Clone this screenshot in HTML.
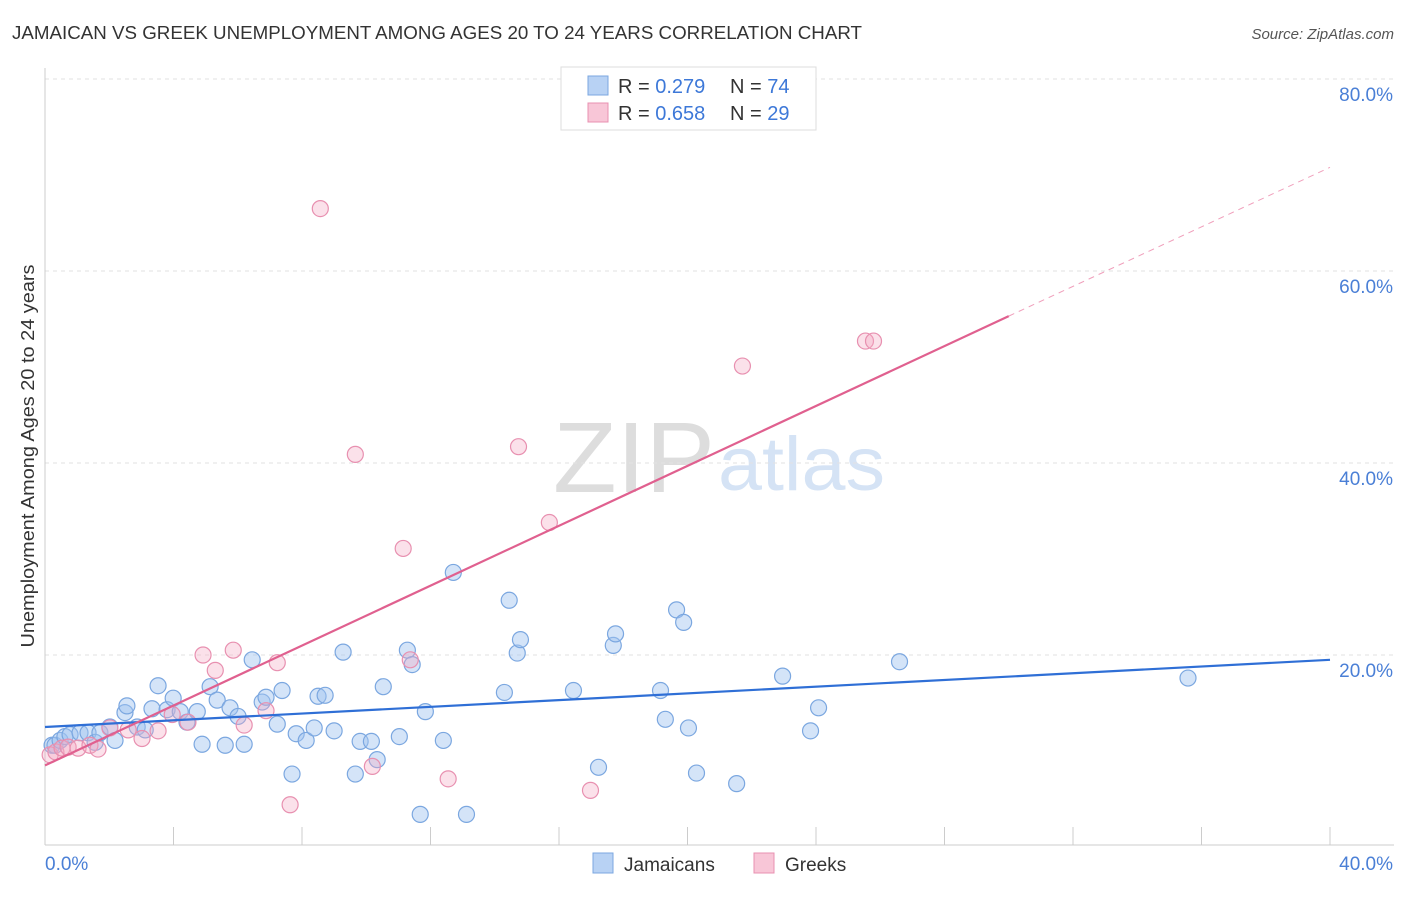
<!DOCTYPE html>
<html><head><meta charset="utf-8"><style>
body{margin:0;background:#fff;font-family:"Liberation Sans",sans-serif}
svg text{font-family:"Liberation Sans",sans-serif}
</style></head><body>
<svg id="chart" width="1406" height="892">
<text x="12" y="39" font-size="18" fill="#333" textLength="850" lengthAdjust="spacingAndGlyphs">JAMAICAN VS GREEK UNEMPLOYMENT AMONG AGES 20 TO 24 YEARS CORRELATION CHART</text>
<text x="1394" y="39" font-size="15" fill="#555" font-style="italic" text-anchor="end">Source: ZipAtlas.com</text>
<text transform="translate(34,456) rotate(-90)" font-size="18" fill="#333" text-anchor="middle" textLength="383" lengthAdjust="spacingAndGlyphs">Unemployment Among Ages 20 to 24 years</text>
<g><text x="553" y="492" font-size="100" fill="#ddd" font-family="Liberation Serif" textLength="162" lengthAdjust="spacingAndGlyphs">ZIP</text><text x="718" y="490" font-size="76" fill="#d5e3f5" textLength="167" lengthAdjust="spacingAndGlyphs">atlas</text></g>
<g id="grid"></g><g id="marks"></g>
<g>
<rect x="561" y="67" width="255" height="63" fill="#fff" stroke="#ddd"/>
<rect x="588" y="76" width="20" height="19" fill="#b8d2f4" stroke="#7ba7e0"/>
<rect x="588" y="103" width="20" height="19" fill="#f8c6d7" stroke="#e890b0"/>
<text x="618" y="93" font-size="20" fill="#333">R = <tspan fill="#3d78d8">0.279</tspan></text>
<text x="730" y="93" font-size="20" fill="#333">N = <tspan fill="#3d78d8">74</tspan></text>
<text x="618" y="120" font-size="20" fill="#333">R = <tspan fill="#3d78d8">0.658</tspan></text>
<text x="730" y="120" font-size="20" fill="#333">N = <tspan fill="#3d78d8">29</tspan></text>
</g>
<g>
<rect x="593" y="853" width="20" height="20" fill="#b8d2f4" stroke="#7ba7e0"/>
<text x="624" y="871" font-size="19" fill="#333">Jamaicans</text>
<rect x="754" y="853" width="20" height="20" fill="#f8c6d7" stroke="#e890b0"/>
<text x="785" y="871" font-size="19" fill="#333">Greeks</text>
</g>
</svg>
<script>
const xTicks=[0,40];
const yTicks=[20,40,60,80];
const jamX=[0.22,0.31,0.47,0.62,0.78,1.09,1.34,1.56,1.71,2.02,2.18,2.49,2.55,2.87,3.12,3.33,3.52,3.80,3.99,4.21,4.42,4.74,4.89,5.14,5.36,5.61,5.76,6.01,6.20,6.45,6.76,6.88,7.23,7.38,7.69,7.82,8.13,8.38,8.50,8.72,9.00,9.28,9.66,9.81,10.16,10.34,10.53,11.03,11.28,11.43,11.68,11.84,12.40,12.71,13.12,14.30,14.45,14.70,14.80,16.45,17.23,17.69,17.76,19.16,19.31,19.66,19.88,20.03,20.28,21.53,22.96,23.83,24.08,26.60,35.58];
const jamY=[10.6,10.6,11.1,11.5,11.7,11.9,11.9,10.9,11.9,12.5,11.1,14.0,14.7,12.5,12.2,14.4,16.8,14.3,15.5,14.1,13.0,14.1,10.7,16.7,15.3,10.6,14.5,13.6,10.7,19.5,15.1,15.6,12.8,16.3,7.6,11.8,11.1,12.4,15.7,15.8,12.1,20.3,7.6,11.0,11.0,9.1,16.7,11.5,20.5,19.0,3.4,14.1,11.1,28.6,3.4,16.1,25.7,20.2,21.6,16.3,8.3,21.0,22.2,16.3,13.3,24.7,23.4,12.4,7.7,6.6,17.8,12.1,14.5,19.3,17.6];
const grkX=[0.16,0.34,0.53,0.72,1.03,1.40,1.65,2.02,2.59,3.02,3.52,3.96,4.45,4.92,5.30,5.86,6.20,6.88,7.23,7.63,8.57,9.66,10.19,11.15,11.37,12.55,14.74,15.70,16.98,21.71,25.54,25.79];
const grkY=[9.6,9.9,10.3,10.4,10.3,10.6,10.2,12.4,12.2,11.3,12.1,13.8,13.0,20.0,18.4,20.5,12.7,14.2,19.2,4.4,66.5,40.9,8.4,31.1,19.5,7.1,41.7,33.8,5.9,50.1,52.7,52.7];
const jamLine=[[0,12.5],[40,19.5]];
const grkLine=[[0,8.5],[30,55.3]];
const grkDash=[[30,55.3],[40,70.8]];
const NS='http://www.w3.org/2000/svg';
const X=v=>45+v*32.125, Y=v=>847-v*9.6;
function mk(t,a,p){const e=document.createElementNS(NS,t);for(const k in a)e.setAttribute(k,a[k]);p.appendChild(e);return e;}
const g=document.getElementById('grid'), m=document.getElementById('marks');
yTicks.forEach(v=>{
 const l=mk('line',{x1:45,x2:1394,y1:Y(v),y2:Y(v),stroke:'#e2e2e2','stroke-dasharray':'4,4'},g);
 
 
 const t=mk('text',{x:1393,y:Y(v)+22,'font-size':19,fill:'#4a7fd6','text-anchor':'end'},g);
 t.textContent=v.toFixed(1)+'%';
 
 
});
const ax=mk('line',{x1:45,x2:45,y1:68,y2:845,stroke:'#ccc'},g);


const bx=mk('line',{x1:45,x2:1394,y1:845,y2:845,stroke:'#ccc'},g);


for(let i=0;i<=40;i+=4){
 const l=mk('line',{x1:X(i),x2:X(i),y1:827,y2:845,stroke:'#ccc'},g);
 
 
}
xTicks.forEach((v,i)=>{
 const t=mk('text',{x:i?1393:45,y:870,'font-size':19,fill:'#4a7fd6','text-anchor':i?'end':'start'},g);
 t.textContent=v.toFixed(1)+'%';
 
 
});
jamX.forEach((v,i)=>{
 const c=mk('circle',{cx:X(v),cy:Y(jamY[i]),r:8,fill:'rgba(160,196,240,0.45)',stroke:'#7ba7e0','stroke-width':1.2},m);
 
 
});
grkX.forEach((v,i)=>{
 const c=mk('circle',{cx:X(v),cy:Y(grkY[i]),r:8,fill:'rgba(244,170,195,0.35)',stroke:'#e890b0','stroke-width':1.2},m);
 
 
});
const jl=mk('line',{x1:X(jamLine[0][0]),y1:Y(jamLine[0][1]),x2:X(jamLine[1][0]),y2:Y(jamLine[1][1]),stroke:'#2f6fd6','stroke-width':2.2},m);


const gl=mk('line',{x1:X(grkLine[0][0]),y1:Y(grkLine[0][1]),x2:X(grkLine[1][0]),y2:Y(grkLine[1][1]),stroke:'#e0608f','stroke-width':2.2},m);


const gd=mk('line',{x1:X(grkDash[0][0]),y1:Y(grkDash[0][1]),x2:X(grkDash[1][0]),y2:Y(grkDash[1][1]),stroke:'#f0a0bc','stroke-width':1,'stroke-dasharray':'6,5'},m);


</script>
</body></html>
